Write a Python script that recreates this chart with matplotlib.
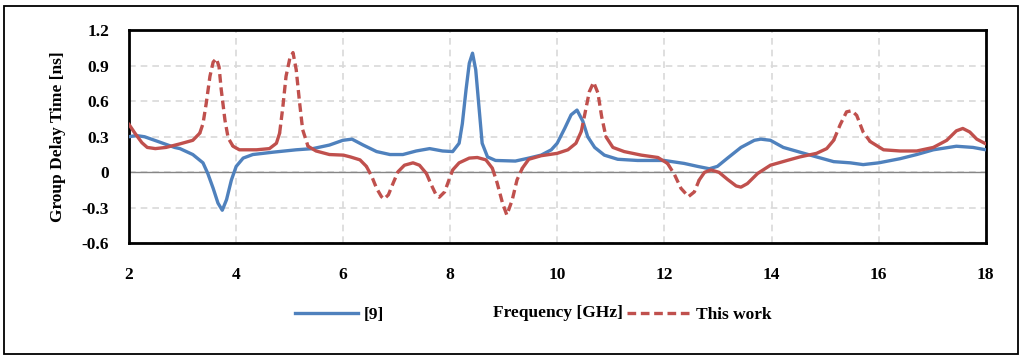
import matplotlib
matplotlib.use("Agg")
import matplotlib.pyplot as plt
from matplotlib.lines import Line2D
from matplotlib.patches import Rectangle
import numpy as np

# ---------------- data ----------------
freq_ref9 = [2.0, 2.15, 2.3, 2.55, 2.86, 2.96, 3.2, 3.39, 3.48, 3.58, 3.67, 3.75, 3.83,
             3.92, 4.01, 4.14, 4.32, 4.7, 5.13, 5.44, 5.75, 6.0, 6.17, 6.38, 6.63, 6.88,
             7.12, 7.37, 7.62, 7.86, 8.05, 8.17, 8.23, 8.3, 8.36, 8.42, 8.48, 8.54, 8.6,
             8.7, 8.85, 9.22, 9.47, 9.7, 9.89, 10.0, 10.14, 10.26, 10.37, 10.48, 10.57,
             10.7, 10.88, 11.13, 11.5, 12.0, 12.37, 12.62, 12.84, 12.99, 13.18, 13.43,
             13.68, 13.8, 13.98, 14.22, 14.53, 14.84, 15.16, 15.47, 15.71, 16.0, 16.4,
             16.71, 17.02, 17.45, 17.76, 18.0]
delay_ref9 = [0.30, 0.31, 0.30, 0.26, 0.21, 0.20, 0.15, 0.08, -0.01, -0.135, -0.26, -0.32, -0.23,
              -0.065, 0.05, 0.12, 0.15, 0.17, 0.19, 0.20, 0.23, 0.27, 0.28, 0.23, 0.175, 0.15,
              0.15, 0.18, 0.20, 0.18, 0.175, 0.245, 0.41, 0.70, 0.92, 1.005, 0.865, 0.555, 0.245,
              0.13, 0.10, 0.095, 0.12, 0.145, 0.19, 0.245, 0.37, 0.485, 0.525, 0.43, 0.30,
              0.21, 0.145, 0.11, 0.10, 0.10, 0.075, 0.05, 0.03, 0.05, 0.12, 0.21,
              0.27, 0.28, 0.27, 0.21, 0.17, 0.13, 0.09, 0.08, 0.065, 0.08, 0.115,
              0.15, 0.19, 0.22, 0.21, 0.19]

freq_work = [2.0, 2.12, 2.25, 2.35, 2.5, 2.7, 2.96, 3.2, 3.33, 3.39, 3.45, 3.52, 3.58,
             3.64, 3.69, 3.73, 3.8, 3.86, 3.95, 4.07, 4.39, 4.63, 4.76, 4.82, 4.88, 4.94,
             5.01, 5.07, 5.13, 5.19, 5.25, 5.35, 5.5, 5.75, 6.01, 6.14, 6.32, 6.44, 6.54,
             6.63, 6.72, 6.77, 6.85, 6.94, 7.03, 7.15, 7.31, 7.43, 7.56, 7.65, 7.74, 7.8,
             7.9, 7.98, 8.05, 8.17, 8.36, 8.51, 8.67, 8.79, 8.88, 8.98, 9.06, 9.16, 9.25,
             9.35, 9.47, 9.7, 10.0, 10.2, 10.35, 10.45, 10.52, 10.6, 10.68, 10.76, 10.83,
             10.91, 11.04, 11.25, 11.57, 11.88, 12.06, 12.19, 12.31, 12.45, 12.56, 12.65,
             12.75, 12.87, 13.02, 13.18, 13.34, 13.43, 13.55, 13.74, 13.98, 14.29, 14.53,
             14.84, 15.03, 15.16, 15.28, 15.4, 15.5, 15.59, 15.71, 15.84, 16.09, 16.4,
             16.71, 17.02, 17.27, 17.45, 17.57, 17.7, 17.83, 18.0]
delay_work = [0.41, 0.33, 0.25, 0.21, 0.20, 0.21, 0.24, 0.27, 0.33, 0.41, 0.58, 0.81, 0.93,
              0.96, 0.89, 0.70, 0.44, 0.29, 0.22, 0.19, 0.19, 0.20, 0.245, 0.33, 0.55, 0.81,
              0.96, 1.01, 0.865, 0.60, 0.36, 0.22, 0.18, 0.15, 0.145, 0.13, 0.105, 0.05, -0.035,
              -0.135, -0.205, -0.225, -0.19, -0.09, 0.005, 0.06, 0.08, 0.06, -0.01, -0.105, -0.19, -0.21,
              -0.165, -0.065, 0.02, 0.08, 0.12, 0.125, 0.105, 0.035, -0.09, -0.26, -0.36, -0.235, -0.065,
              0.035, 0.11, 0.14, 0.16, 0.19, 0.245, 0.345, 0.50, 0.68, 0.76, 0.67, 0.47,
              0.30, 0.21, 0.175, 0.145, 0.125, 0.075, -0.02, -0.135, -0.205, -0.165, -0.065,
              0.0, 0.02, 0.0, -0.06, -0.115, -0.125, -0.095, -0.01, 0.06, 0.10, 0.13,
              0.16, 0.20, 0.27, 0.40, 0.51, 0.52, 0.48, 0.34, 0.26, 0.19, 0.18,
              0.18, 0.21, 0.27, 0.35, 0.37, 0.34, 0.28, 0.24]

x_ticks = [2, 4, 6, 8, 10, 12, 14, 16, 18]
y_ticks = [-0.6, -0.3, 0, 0.3, 0.6, 0.9, 1.2]
y_tick_labels = ["-0.6", "-0.3", "0", "0.3", "0.6", "0.9", "1.2"]
series_labels = ["[9]", "This work"]

# frequency ranges where the "This work" curve appears dashed (style only)
dashed_ranges = [(3.33, 3.92), (4.8, 5.35), (6.4, 7.05), (7.5, 8.05), (8.75, 9.33),
                 (10.45, 10.95), (12.06, 12.68), (15.15, 15.78)]

BLUE = "#4F81BD"
RED = "#C0504D"
FONT = "Liberation Serif"

plt.rcParams["font.family"] = [FONT, "DejaVu Serif"]
plt.rcParams["font.weight"] = "bold"

fig = plt.figure(figsize=(10.28, 3.58), dpi=100)
ax = fig.add_axes([0.125, 0.320, 0.834, 0.596])

ax.set_xlim(2, 18)
ax.set_ylim(-0.6, 1.2)
ax.set_xticks(x_ticks)
ax.set_yticks(y_ticks)
ax.set_yticklabels(y_tick_labels)
ax.tick_params(axis="both", length=0, labelsize=12.5)
ax.tick_params(axis="x", pad=17)
ax.tick_params(axis="y", pad=14)
for lab in ax.get_xticklabels() + ax.get_yticklabels():
    lab.set_fontweight("bold")

ax.grid(True, color="#D9D9D9", linestyle=(0, (4, 3)), linewidth=1.2)
ax.set_axisbelow(True)
ax.axhline(0, color="#868686", linewidth=1.0, zorder=1.5)
for sp in ax.spines.values():
    sp.set_linewidth(2.0)
    sp.set_color("black")

lw = 2.4
ax.plot(freq_ref9, delay_ref9, color=BLUE, linewidth=lw, solid_joinstyle="round",
        solid_capstyle="round", zorder=3)

# red curve: split into solid / dashed runs
fw = np.asarray(freq_work)
dw = np.asarray(delay_work)
mid = 0.5 * (fw[:-1] + fw[1:])
is_dash = np.array([any(a <= m <= b for a, b in dashed_ranges) for m in mid])
start = 0
for i in range(1, len(mid) + 1):
    if i == len(mid) or is_dash[i] != is_dash[start]:
        xs = fw[start:i + 1]
        ys = dw[start:i + 1]
        if is_dash[start]:
            ax.plot(xs, ys, color=RED, linewidth=lw, linestyle=(0, (2.6, 1.4)),
                    dash_capstyle="butt", dash_joinstyle="round", zorder=4)
        else:
            ax.plot(xs, ys, color=RED, linewidth=lw, solid_joinstyle="round",
                    solid_capstyle="round", zorder=4)
        start = i

ax.set_ylabel("Group Delay Time [ns]", fontsize=12.5, fontweight="bold")
ax.yaxis.set_label_coords(-0.073, 0.5)

fig.text(0.543, 0.126, "Frequency [GHz]", ha="center", va="center",
         fontsize=12.5, fontweight="bold")

handles = [Line2D([], [], color=BLUE, linewidth=lw),
           Line2D([], [], color=RED, linewidth=lw, linestyle=(0, (2.6, 1.4)))]
fig.legend(handles, series_labels, loc="center", bbox_to_anchor=(0.519, 0.120),
           ncol=2, frameon=False, prop={"family": FONT, "weight": "bold", "size": 12.5},
           handlelength=3.6, handletextpad=0.35, columnspacing=14.0)

fig.patches.append(Rectangle((4 / 1028, 4 / 358), 1014 / 1028, 348 / 358,
                             transform=fig.transFigure, fill=False,
                             edgecolor="black", linewidth=1.3))

fig.savefig("out.png", dpi=100)
